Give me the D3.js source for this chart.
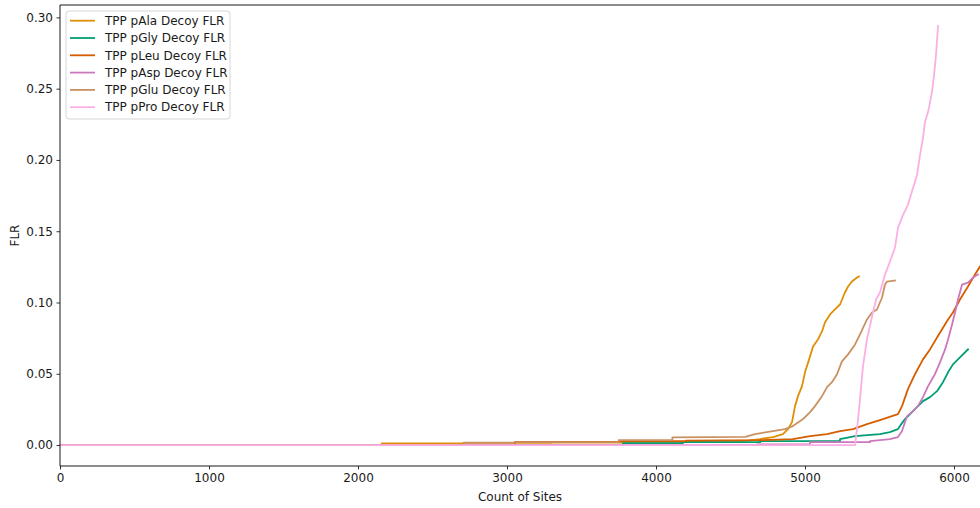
<!DOCTYPE html>
<html>
<head>
<meta charset="utf-8">
<script src="https://cdn.jsdelivr.net/npm/d3@7/dist/d3.min.js"></script>
<style>
  html, body { margin: 0; padding: 0; background: #ffffff; }
  svg { display: block; font-family: "DejaVu Sans", sans-serif; }
</style>
</head>
<body>
<svg id="chart" width="980" height="508"></svg>
<script>
// Cumulative decoy false localisation rate vs number of sites, per decoy amino acid.
const seriesNames = [
  "TPP pAla Decoy FLR",
  "TPP pGly Decoy FLR",
  "TPP pLeu Decoy FLR",
  "TPP pAsp Decoy FLR",
  "TPP pGlu Decoy FLR",
  "TPP pPro Decoy FLR"
];
const seriesColors = ["#de8f05", "#029e73", "#d55e00", "#cc78bc", "#ca9161", "#fbafe4"];

// [count of sites, FLR]
const alaPoints = [
  [0, 0], [2160, 0], [2160, 0.0012], [2705, 0.0012], [2705, 0.0015], [3300, 0.0015],
  [3300, 0.0018], [3800, 0.0018], [3800, 0.0022], [4300, 0.0022], [4300, 0.0027],
  [4600, 0.003], [4698, 0.0042], [4785, 0.0056], [4852, 0.0077], [4886, 0.0112],
  [4913, 0.0161], [4933, 0.0273], [4953, 0.0343], [4980, 0.0413], [5000, 0.0510],
  [5034, 0.0622], [5054, 0.0692], [5087, 0.0741], [5114, 0.0797], [5134, 0.0860],
  [5168, 0.0916], [5201, 0.0951], [5235, 0.0986], [5268, 0.1070], [5289, 0.1112],
  [5315, 0.1147], [5349, 0.1175], [5362, 0.1182]
];
const glyPoints = [
  [0, 0], [3779, 0], [3779, 0.0014], [4181, 0.0014], [4181, 0.0020], [4700, 0.0020],
  [4700, 0.0028], [5235, 0.0028], [5235, 0.0042], [5336, 0.0063], [5503, 0.0077],
  [5570, 0.0091], [5624, 0.0112], [5651, 0.0154], [5671, 0.0182], [5705, 0.0217],
  [5738, 0.0252], [5772, 0.0287], [5792, 0.0308], [5839, 0.0336], [5886, 0.0378],
  [5926, 0.0441], [5960, 0.0510], [5993, 0.0566], [6040, 0.0615], [6094, 0.0671]
];
const leuPoints = [
  [0, 0], [3054, 0], [3054, 0.0022], [3750, 0.0022], [3750, 0.0027], [4200, 0.0027],
  [4200, 0.0031], [4698, 0.0034], [4919, 0.0042], [5034, 0.0063], [5148, 0.0077],
  [5235, 0.0098], [5322, 0.0112], [5416, 0.0147], [5503, 0.0175], [5624, 0.0217],
  [5651, 0.0273], [5691, 0.0392], [5738, 0.0497], [5792, 0.0601], [5839, 0.0671],
  [5886, 0.0755], [5919, 0.0811], [5960, 0.0881], [5993, 0.0930], [6040, 0.1021],
  [6094, 0.1112], [6141, 0.1196], [6174, 0.1252], [6210, 0.1300]
];
const aspPoints = [
  [0, 0], [4678, 0], [4678, 0.0004], [5034, 0.0004], [5034, 0.0020], [5436, 0.0020],
  [5436, 0.0028], [5570, 0.0042], [5624, 0.0056], [5651, 0.0098], [5685, 0.0203],
  [5725, 0.0238], [5758, 0.0273], [5792, 0.0336], [5826, 0.0413], [5872, 0.0497],
  [5906, 0.0580], [5940, 0.0671], [5960, 0.0741], [5987, 0.0846], [6007, 0.0930],
  [6027, 0.1021], [6054, 0.1126], [6094, 0.1140], [6128, 0.1175], [6161, 0.1196]
];
const gluPoints = [
  [0, 0], [2710, 0], [2710, 0.0016], [3050, 0.0016], [3050, 0.0020], [3750, 0.0020],
  [3750, 0.0035], [4110, 0.0035], [4110, 0.0054], [4600, 0.0058], [4664, 0.0077],
  [4785, 0.0098], [4866, 0.0112], [4919, 0.0133], [4987, 0.0182], [5034, 0.0231],
  [5067, 0.0273], [5114, 0.0343], [5148, 0.0406], [5181, 0.0441], [5215, 0.0497],
  [5248, 0.0587], [5289, 0.0636], [5336, 0.0706], [5369, 0.0776], [5416, 0.0881],
  [5450, 0.0930], [5483, 0.0951], [5517, 0.1035], [5537, 0.1126], [5550, 0.1147],
  [5604, 0.1154]
];
const proPoints = [
  [0, 0], [5336, 0], [5349, 0.0112], [5356, 0.0180], [5369, 0.0320], [5389, 0.0552],
  [5416, 0.0741], [5450, 0.0902], [5477, 0.1021], [5503, 0.1070], [5537, 0.1196],
  [5570, 0.1287], [5604, 0.1385], [5624, 0.1524], [5658, 0.1615], [5691, 0.1685],
  [5725, 0.1804], [5752, 0.1895], [5772, 0.2035], [5792, 0.2154], [5805, 0.2266],
  [5826, 0.2336], [5852, 0.2476], [5866, 0.2594], [5879, 0.2734], [5893, 0.2940]
];
const seriesPoints = [alaPoints, glyPoints, leuPoints, aspPoints, gluPoints, proPoints];

const xTicks = [0, 1000, 2000, 3000, 4000, 5000, 6000];
const yTicks = [0.00, 0.05, 0.10, 0.15, 0.20, 0.25, 0.30];

const svg = d3.select("#chart");
const plot = { left: 60, top: 5, right: 1000, bottom: 466 };

const x = d3.scaleLinear().domain([0, 6000]).range([plot.left, plot.left + 894]);
const y = d3.scaleLinear().domain([-0.0147, 0.3087]).range([plot.bottom, plot.top]);

svg.append("defs").append("clipPath").attr("id", "plot-clip")
  .append("rect")
  .attr("x", plot.left).attr("y", plot.top)
  .attr("width", plot.right - plot.left).attr("height", plot.bottom - plot.top);

// Series lines
const line = d3.line().x(d => x(d[0])).y(d => y(d[1]));
const lines = svg.append("g").attr("clip-path", "url(#plot-clip)");
seriesPoints.forEach((pts, i) => {
  lines.append("path")
    .attr("d", line(pts))
    .attr("fill", "none")
    .attr("stroke", seriesColors[i])
    .attr("stroke-width", 1.8)
    .attr("stroke-linejoin", "round")
    .attr("stroke-linecap", "square");
});

// Axes
const xAxis = d3.axisBottom(x).tickValues(xTicks).tickFormat(d3.format("d")).tickSize(3.5).tickPadding(3.5);
const yAxis = d3.axisLeft(y).tickValues(yTicks).tickFormat(d3.format(".2f")).tickSize(3.5).tickPadding(3.5);

const gx = svg.append("g").attr("transform", `translate(0,${plot.bottom})`).call(xAxis);
const gy = svg.append("g").attr("transform", `translate(${plot.left},0)`).call(yAxis);
[gx, gy].forEach(g => {
  g.select(".domain").remove();
  g.selectAll(".tick line").attr("stroke", "#000").attr("stroke-width", 0.8);
  g.selectAll(".tick text").attr("font-size", 12).attr("fill", "#1a1a1a")
    .attr("font-family", "DejaVu Sans, sans-serif");
});

// Spines
const spines = svg.append("g").attr("stroke", "#000").attr("stroke-width", 0.9).attr("fill", "none");
spines.append("line").attr("x1", plot.left).attr("x2", plot.left).attr("y1", plot.top).attr("y2", plot.bottom);
spines.append("line").attr("x1", plot.left).attr("x2", plot.right).attr("y1", plot.bottom).attr("y2", plot.bottom);
spines.append("line").attr("x1", plot.left).attr("x2", plot.right).attr("y1", plot.top).attr("y2", plot.top);

// Axis titles
svg.append("text")
  .attr("x", 520).attr("y", 501)
  .attr("text-anchor", "middle")
  .attr("font-size", 12)
  .attr("fill", "#1a1a1a")
  .text("Count of Sites");
svg.append("text")
  .attr("transform", `translate(19,${(plot.top + plot.bottom) / 2}) rotate(-90)`)
  .attr("text-anchor", "middle")
  .attr("font-size", 12)
  .attr("fill", "#1a1a1a")
  .text("FLR");

// Legend
const legend = svg.append("g").attr("transform", "translate(66,11)");
legend.append("rect")
  .attr("x", 0).attr("y", 0).attr("width", 164).attr("height", 108)
  .attr("rx", 3).attr("ry", 3)
  .attr("fill", "#ffffff").attr("fill-opacity", 0.8)
  .attr("stroke", "#cccccc").attr("stroke-width", 0.8);
seriesNames.forEach((name, i) => {
  const ry = 9.7 + i * 17.3;
  legend.append("line")
    .attr("x1", 4).attr("x2", 29).attr("y1", ry).attr("y2", ry)
    .attr("stroke", seriesColors[i]).attr("stroke-width", 1.8);
  legend.append("text")
    .attr("x", 39).attr("y", ry)
    .attr("dy", "0.35em")
    .attr("font-size", 12)
    .attr("fill", "#1a1a1a")
    .text(name);
});
</script>
</body>
</html>
